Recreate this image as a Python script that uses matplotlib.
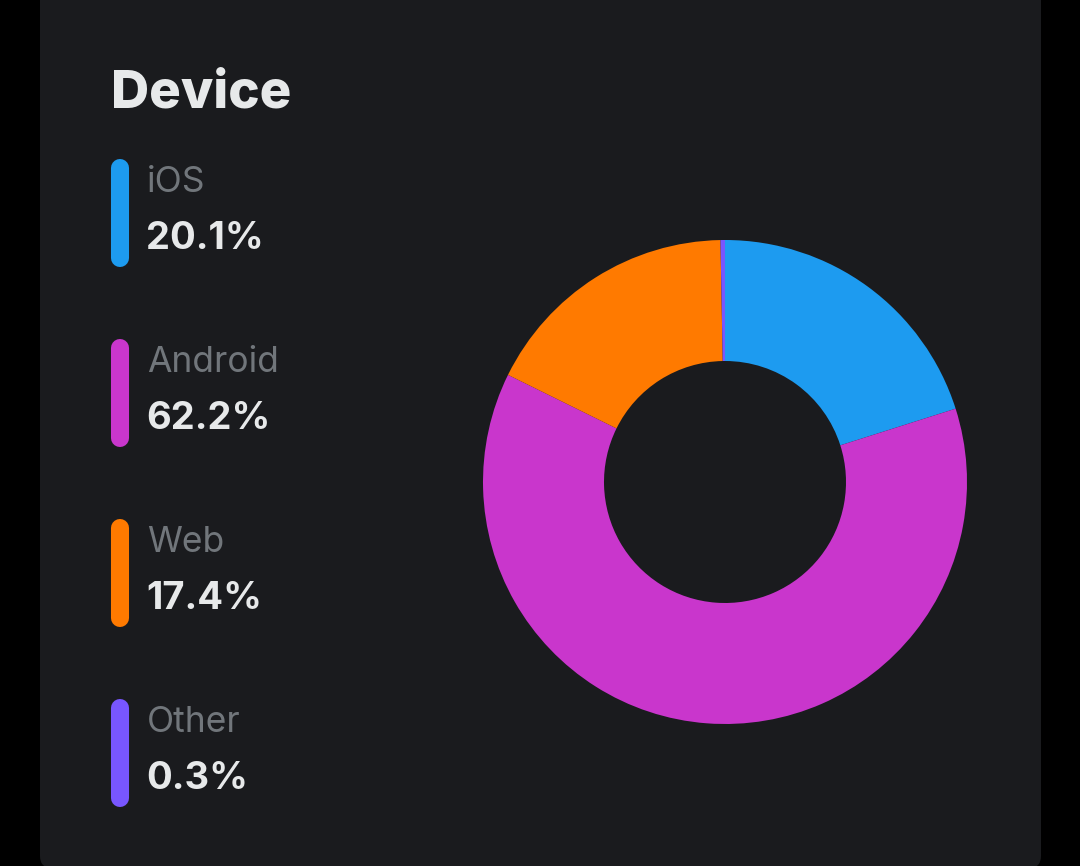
import matplotlib
matplotlib.use('Agg')
import matplotlib.pyplot as plt
from matplotlib.patches import FancyBboxPatch

# data
devices = ['iOS', 'Android', 'Web', 'Other']
shares = [20.1, 62.2, 17.4, 0.3]
colors = ['#1d9bf0', '#c936cc', '#ff7a00', '#7856ff']

W, H = 1080, 866
CARD = '#1a1b1e'
fig = plt.figure(figsize=(W / 100, H / 100), dpi=100, facecolor='black')
ax = fig.add_axes([0, 0, 1, 1])
ax.set_facecolor('black')

def py(y):
    # pixel row -> data y (origin at bottom)
    return H - y

# card background
card = FancyBboxPatch((40, py(868)), 1001, 880, boxstyle='round,pad=0,rounding_size=12',
                      fc=CARD, ec='none', zorder=0)
ax.add_patch(card)

font = 'Inter'
ax.text(111, py(108), 'Device', fontsize=38, fontweight='heavy', color='#e7e9ea',
        family=font, va='baseline', ha='left')

for i, (name, val, col) in enumerate(zip(devices, shares, colors)):
    top = 159 + 180 * i
    ax.plot([120, 120], [py(top + 9), py(top + 108 - 9)], color=col, lw=13,
            solid_capstyle='round', zorder=2)
    ax.text(147, py(192 + 180 * i), name, fontsize=25.5, color='#71767b',
            family=font, va='baseline', ha='left')
    ax.text(146, py(249 + 180 * i), f'{val}%', fontsize=27.5, fontweight='bold',
            color='#e7e9ea', family=font, va='baseline', ha='left')

ax.pie(shares, colors=colors, startangle=90, counterclock=False,
       center=(725, py(482)), radius=242,
       wedgeprops=dict(width=121, edgecolor='none', linewidth=0))

ax.set_xlim(0, W)
ax.set_ylim(0, H)
ax.set_aspect('equal')
ax.axis('off')

fig.savefig('out.png', dpi=100, facecolor='black')
